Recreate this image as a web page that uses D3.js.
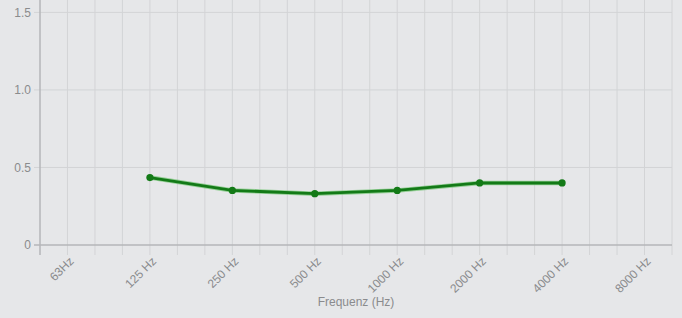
<!DOCTYPE html>
<html>
<head>
<meta charset="utf-8">
<script src="https://cdn.jsdelivr.net/npm/d3@7"></script>
<style>
  body{margin:0;background:#e6e7e9;}
  svg{display:block;font-family:"Liberation Sans",Arial,sans-serif;}
</style>
</head>
<body>
<svg id="chart" width="682" height="318"></svg>
<script>
// band labels, one every 3 grid steps
var bands=["63Hz","125 Hz","250 Hz","500 Hz","1000 Hz","2000 Hz","4000 Hz","8000 Hz"];
// absorption values (null = not measured)
var values=[null,0.435,0.352,0.331,0.352,0.40,0.40,null];
var yTicks=[0,0.5,1.0,1.5];
var yLabels=["0","0.5","1.0","1.5"];

var svg=d3.select("#chart");
var plotLeft=40,plotRight=672,plotTop=0,plotBottom=245;

var x=d3.scaleLinear().domain([0,23]).range([plotLeft,plotRight]);
var y=d3.scaleLinear().domain([0,1.58]).range([plotBottom,plotTop]);
function slot(i){return 1+3*i;}   //position of band i on the grid

// vertical grid
svg.append("g").selectAll("line")
  .data(d3.range(1,24))
  .enter().append("line")
    .attr("x1",function(d){return x(d);}).attr("x2",function(d){return x(d);})
    .attr("y1",plotTop).attr("y2",plotBottom+10)
    .attr("stroke","#d3d4d6").attr("stroke-width",1);

// horizontal grid
svg.append("g").selectAll("line")
  .data(yTicks)
  .enter().append("line")
    .attr("x1",plotLeft-6).attr("x2",plotRight)
    .attr("y1",function(d){return y(d);}).attr("y2",function(d){return y(d);})
    .attr("stroke",function(d){return d===0?"#b5b6b8":"#d3d4d6";})
    .attr("stroke-width",function(d){return d===0?1.5:1;});

// y axis line
svg.append("line")
  .attr("x1",plotLeft).attr("x2",plotLeft).attr("y1",plotTop).attr("y2",plotBottom+10)
  .attr("stroke","#b5b6b8").attr("stroke-width",1.5);

// y labels
svg.append("g").selectAll("text")
  .data(yTicks)
  .enter().append("text")
    .attr("x",plotLeft-9).attr("y",function(d){return y(d);})
    .attr("dy","0.35em").attr("text-anchor","end")
    .attr("font-size",12).attr("fill","#8a8b8d")
    .text(function(d,i){return yLabels[i];});

// x labels, rotated
svg.append("g").selectAll("text")
  .data(bands)
  .enter().append("text")
    .attr("transform",function(d,i){return "translate("+(x(slot(i))+4)+","+(plotBottom+14)+") rotate(-45)";})
    .attr("text-anchor","end").attr("dy","0.35em")
    .attr("font-size",12).attr("fill","#8a8b8d")
    .text(function(d){return d;});

// axis title
svg.append("text")
  .attr("x",(plotLeft+plotRight)/2).attr("y",306)
  .attr("text-anchor","middle").attr("font-size",12).attr("fill","#8a8b8d")
  .text("Frequenz (Hz)");

// series
var pts=values.map(function(v,i){return {i:i,v:v};}).filter(function(d){return d.v!==null;});
var line=d3.line().x(function(d){return x(slot(d.i));}).y(function(d){return y(d.v);});

svg.append("path").datum(pts)
  .attr("d",line).attr("fill","none")
  .attr("stroke","#5fbf5f").attr("stroke-width",4.5).attr("stroke-opacity",0.6);
svg.append("path").datum(pts)
  .attr("d",line).attr("fill","none")
  .attr("stroke","#137a17").attr("stroke-width",2.8);

svg.append("g").selectAll("circle")
  .data(pts)
  .enter().append("circle")
    .attr("cx",function(d){return x(slot(d.i));})
    .attr("cy",function(d){return y(d.v);})
    .attr("r",3.6).attr("fill","#137a17");
</script>
</body>
</html>
